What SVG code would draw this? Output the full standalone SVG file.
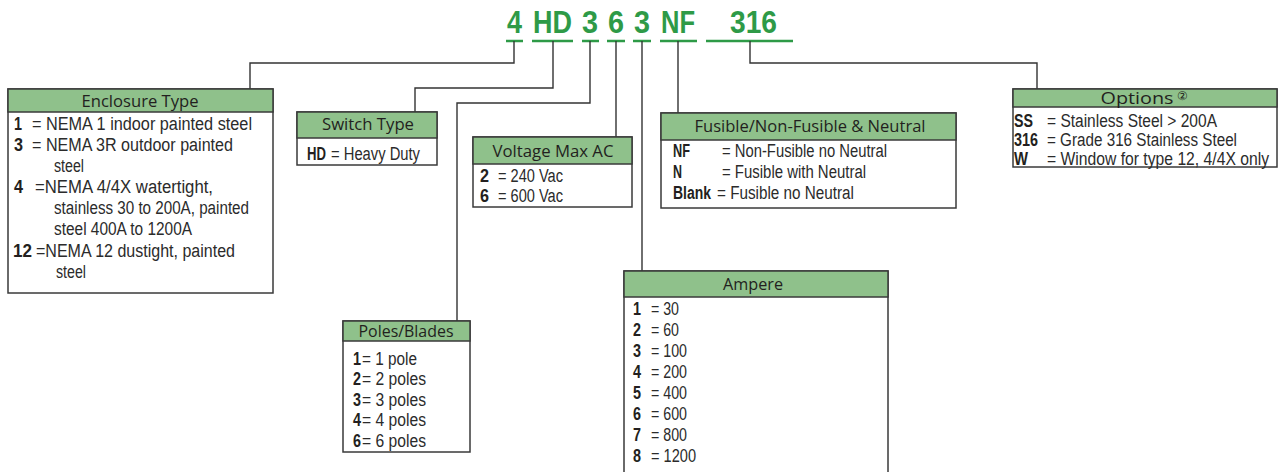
<svg xmlns="http://www.w3.org/2000/svg" width="1278" height="472" viewBox="0 0 1278 472">
<style>
.code{font-family:"Liberation Sans",Arial,sans-serif;font-weight:bold;font-size:32px;fill:#2e9a47}
.ul{stroke:#2e9a47;stroke-width:2.5;fill:none}
.con{stroke:#333;stroke-width:1.4;fill:none}
.box{fill:#fff;stroke:#3a3a3a;stroke-width:1.5}
.hdr{fill:#8fc18b;stroke:#3a3a3a;stroke-width:1.5}
.ht{font-family:"Open Sans","Noto Sans",sans-serif;font-size:16px;fill:#231f20;text-anchor:middle}
.b{font-family:"Liberation Sans",Arial,sans-serif;font-size:18px;font-weight:bold;fill:#231f20}
.t{font-family:"Liberation Sans",Arial,sans-serif;font-size:18px;fill:#2b2b2b}
</style>
<rect width="1278" height="472" fill="#fff"/>
<g id="code">
<text class="code" x="507" y="33" textLength="15" lengthAdjust="spacingAndGlyphs">4</text>
<text class="code" x="533" y="33" textLength="39" lengthAdjust="spacingAndGlyphs">HD</text>
<text class="code" x="582" y="33" textLength="16" lengthAdjust="spacingAndGlyphs">3</text>
<text class="code" x="608" y="33" textLength="16" lengthAdjust="spacingAndGlyphs">6</text>
<text class="code" x="634" y="33" textLength="16" lengthAdjust="spacingAndGlyphs">3</text>
<text class="code" x="661" y="33" textLength="34" lengthAdjust="spacingAndGlyphs">NF</text>
<text class="code" x="730" y="33" textLength="47" lengthAdjust="spacingAndGlyphs">316</text>
<path class="ul" d="M506,41H523M532,41H573M582,41H599M607,41H625M633,41H651M660,41H697M706,41H793"/>
</g>
<g id="connectors">
<path class="con" d="M514,41V63H250V89"/>
<path class="con" d="M553,41V88H415V112"/>
<path class="con" d="M590,41V103H457V321"/>
<path class="con" d="M616,41V137"/>
<path class="con" d="M642,41V271"/>
<path class="con" d="M678,41V113"/>
<path class="con" d="M750,41V63H1037V89"/>
</g>
<g id="enclosure">
<rect class="box" x="8" y="89" width="265" height="204"/>
<rect class="hdr" x="8" y="89" width="265" height="23"/>
<text class="ht" x="140" y="107" textLength="117" lengthAdjust="spacingAndGlyphs">Enclosure Type</text>
<text class="b" x="14" y="130" textLength="8" lengthAdjust="spacingAndGlyphs">1</text>
<text class="t" x="32" y="130" textLength="220" lengthAdjust="spacingAndGlyphs">= NEMA 1 indoor painted steel</text>
<text class="b" x="14" y="151" textLength="9" lengthAdjust="spacingAndGlyphs">3</text>
<text class="t" x="32" y="151" textLength="201" lengthAdjust="spacingAndGlyphs">= NEMA 3R outdoor painted</text>
<text class="t" x="54" y="172" textLength="30" lengthAdjust="spacingAndGlyphs">steel</text>
<text class="b" x="14" y="193" textLength="9" lengthAdjust="spacingAndGlyphs">4</text>
<text class="t" x="35" y="193" textLength="178" lengthAdjust="spacingAndGlyphs">=NEMA 4/4X watertight,</text>
<text class="t" x="54" y="214" textLength="195" lengthAdjust="spacingAndGlyphs">stainless 30 to 200A, painted</text>
<text class="t" x="54" y="235" textLength="138" lengthAdjust="spacingAndGlyphs">steel 400A to 1200A</text>
<text class="b" x="13" y="257" textLength="19" lengthAdjust="spacingAndGlyphs">12</text>
<text class="t" x="36" y="257" textLength="199" lengthAdjust="spacingAndGlyphs">=NEMA 12 dustight, painted</text>
<text class="t" x="56" y="278" textLength="30" lengthAdjust="spacingAndGlyphs">steel</text>
</g>
<g id="switch">
<rect class="box" x="297" y="112" width="140" height="53"/>
<rect class="hdr" x="297" y="112" width="140" height="26"/>
<text class="ht" x="368" y="130" textLength="92" lengthAdjust="spacingAndGlyphs">Switch Type</text>
<text class="b" x="307" y="160" textLength="19" lengthAdjust="spacingAndGlyphs">HD</text>
<text class="t" x="331" y="160" textLength="89" lengthAdjust="spacingAndGlyphs">= Heavy Duty</text>
</g>
<g id="voltage">
<rect class="box" x="473" y="137" width="159" height="70"/>
<rect class="hdr" x="473" y="137" width="159" height="27"/>
<text class="ht" x="553" y="157" textLength="121" lengthAdjust="spacingAndGlyphs">Voltage Max AC</text>
<text class="b" x="480" y="182" textLength="9" lengthAdjust="spacingAndGlyphs">2</text>
<text class="t" x="498" y="182" textLength="65" lengthAdjust="spacingAndGlyphs">= 240 Vac</text>
<text class="b" x="480" y="202" textLength="9" lengthAdjust="spacingAndGlyphs">6</text>
<text class="t" x="498" y="202" textLength="65" lengthAdjust="spacingAndGlyphs">= 600 Vac</text>
</g>
<g id="fusible">
<rect class="box" x="661" y="113" width="295" height="95"/>
<rect class="hdr" x="661" y="113" width="295" height="27"/>
<text class="ht" x="810" y="132" textLength="231" lengthAdjust="spacingAndGlyphs">Fusible/Non-Fusible &amp; Neutral</text>
<text class="b" x="673" y="157" textLength="17" lengthAdjust="spacingAndGlyphs">NF</text>
<text class="t" x="722" y="157" textLength="165" lengthAdjust="spacingAndGlyphs">= Non-Fusible no Neutral</text>
<text class="b" x="673" y="178" textLength="9" lengthAdjust="spacingAndGlyphs">N</text>
<text class="t" x="722" y="178" textLength="144" lengthAdjust="spacingAndGlyphs">= Fusible with Neutral</text>
<text class="b" x="673" y="199" textLength="38" lengthAdjust="spacingAndGlyphs">Blank</text>
<text class="t" x="717" y="199" textLength="137" lengthAdjust="spacingAndGlyphs">= Fusible no Neutral</text>
</g>
<g id="options">
<rect class="box" x="1013" y="89" width="264" height="78"/>
<rect class="hdr" x="1013" y="89" width="264" height="18"/>
<text class="ht" x="1137" y="104" textLength="73" lengthAdjust="spacingAndGlyphs">Options</text>
<text class="ht" x="1182" y="100" style="font-size:12px">②</text>
<text class="b" x="1014" y="127" textLength="19" lengthAdjust="spacingAndGlyphs">SS</text>
<text class="t" x="1047" y="127" textLength="170" lengthAdjust="spacingAndGlyphs">= Stainless Steel &gt; 200A</text>
<text class="b" x="1014" y="146" textLength="24" lengthAdjust="spacingAndGlyphs">316</text>
<text class="t" x="1047" y="146" textLength="190" lengthAdjust="spacingAndGlyphs">= Grade 316 Stainless Steel</text>
<text class="b" x="1014" y="165" textLength="14" lengthAdjust="spacingAndGlyphs">W</text>
<text class="t" x="1047" y="165" textLength="222" lengthAdjust="spacingAndGlyphs">= Window for type 12, 4/4X only</text>
</g>
<g id="poles">
<rect class="box" x="343" y="321" width="127" height="131"/>
<rect class="hdr" x="343" y="321" width="127" height="20"/>
<text class="ht" x="406" y="337" textLength="95" lengthAdjust="spacingAndGlyphs">Poles/Blades</text>
<text class="b" x="353" y="365" textLength="8" lengthAdjust="spacingAndGlyphs">1</text><text class="t" x="362" y="365" textLength="55" lengthAdjust="spacingAndGlyphs">= 1 pole</text>
<text class="b" x="353" y="385" textLength="8" lengthAdjust="spacingAndGlyphs">2</text><text class="t" x="362" y="385" textLength="64" lengthAdjust="spacingAndGlyphs">= 2 poles</text>
<text class="b" x="353" y="406" textLength="8" lengthAdjust="spacingAndGlyphs">3</text><text class="t" x="362" y="406" textLength="64" lengthAdjust="spacingAndGlyphs">= 3 poles</text>
<text class="b" x="353" y="426" textLength="8" lengthAdjust="spacingAndGlyphs">4</text><text class="t" x="362" y="426" textLength="64" lengthAdjust="spacingAndGlyphs">= 4 poles</text>
<text class="b" x="353" y="447" textLength="8" lengthAdjust="spacingAndGlyphs">6</text><text class="t" x="362" y="447" textLength="64" lengthAdjust="spacingAndGlyphs">= 6 poles</text>
</g>
<g id="ampere">
<rect class="box" x="624" y="271" width="264" height="205"/>
<rect class="hdr" x="624" y="271" width="264" height="26"/>
<text class="ht" x="753" y="290" textLength="60" lengthAdjust="spacingAndGlyphs">Ampere</text>
<text class="b" x="633" y="315" textLength="8" lengthAdjust="spacingAndGlyphs">1</text><text class="t" x="651" y="315" textLength="28" lengthAdjust="spacingAndGlyphs">= 30</text>
<text class="b" x="633" y="336" textLength="8" lengthAdjust="spacingAndGlyphs">2</text><text class="t" x="651" y="336" textLength="28" lengthAdjust="spacingAndGlyphs">= 60</text>
<text class="b" x="633" y="357" textLength="8" lengthAdjust="spacingAndGlyphs">3</text><text class="t" x="651" y="357" textLength="36" lengthAdjust="spacingAndGlyphs">= 100</text>
<text class="b" x="633" y="378" textLength="8" lengthAdjust="spacingAndGlyphs">4</text><text class="t" x="651" y="378" textLength="36" lengthAdjust="spacingAndGlyphs">= 200</text>
<text class="b" x="633" y="399" textLength="8" lengthAdjust="spacingAndGlyphs">5</text><text class="t" x="651" y="399" textLength="36" lengthAdjust="spacingAndGlyphs">= 400</text>
<text class="b" x="633" y="420" textLength="8" lengthAdjust="spacingAndGlyphs">6</text><text class="t" x="651" y="420" textLength="36" lengthAdjust="spacingAndGlyphs">= 600</text>
<text class="b" x="633" y="441" textLength="8" lengthAdjust="spacingAndGlyphs">7</text><text class="t" x="651" y="441" textLength="36" lengthAdjust="spacingAndGlyphs">= 800</text>
<text class="b" x="633" y="462" textLength="8" lengthAdjust="spacingAndGlyphs">8</text><text class="t" x="651" y="462" textLength="45" lengthAdjust="spacingAndGlyphs">= 1200</text>
</g>
</svg>
